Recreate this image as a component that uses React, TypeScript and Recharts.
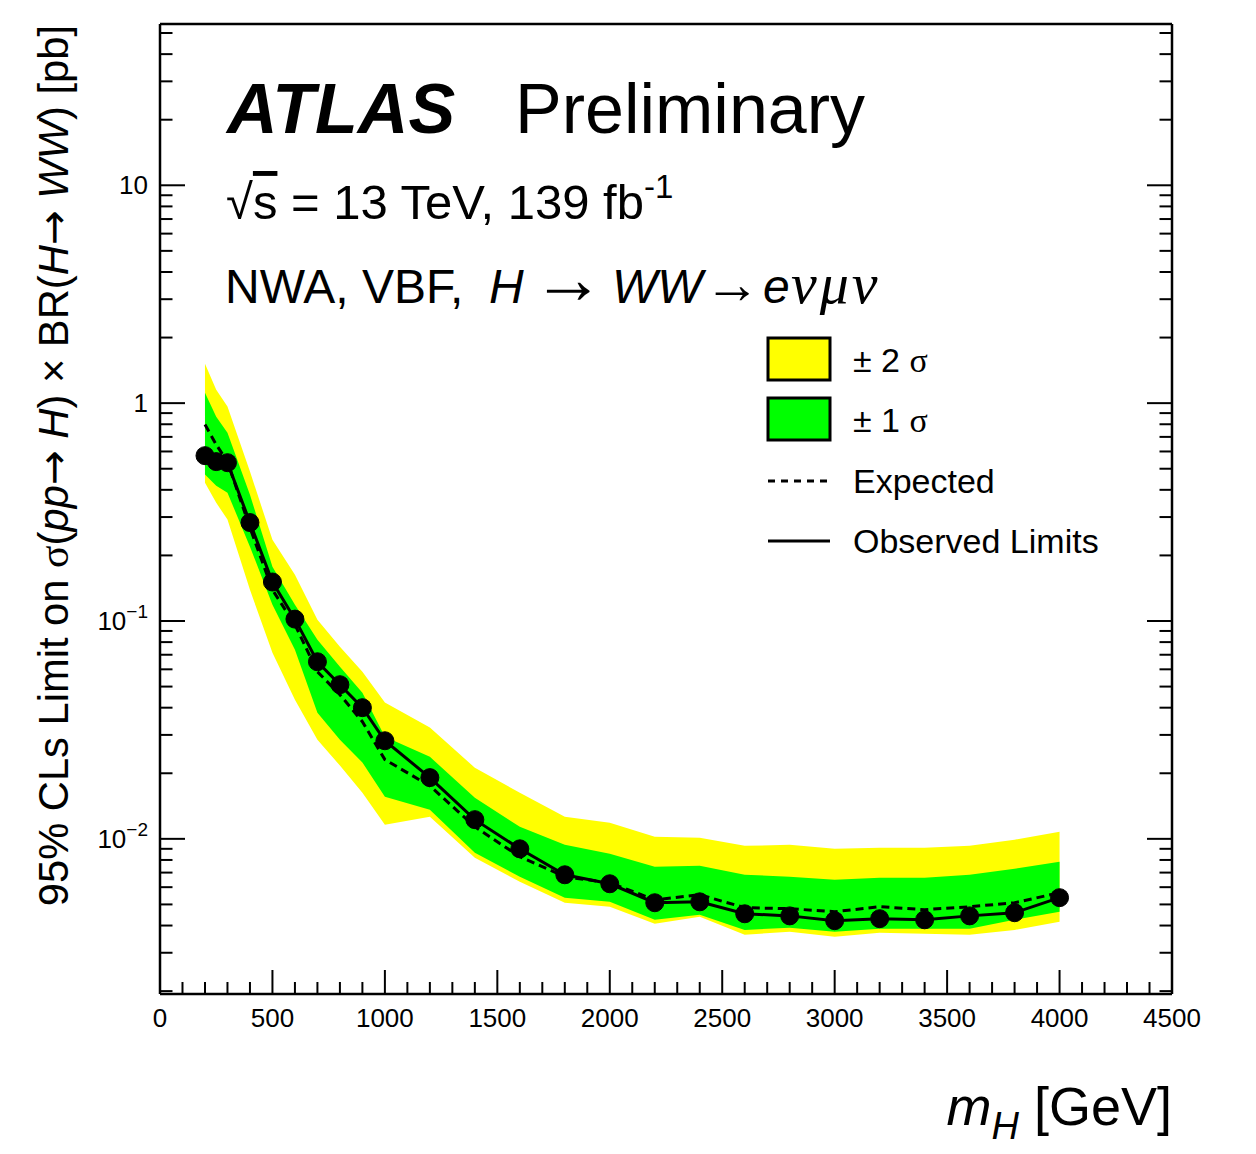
import React from "react";
import { ComposedChart, Area, Line, XAxis, YAxis } from "recharts";

// mass points [GeV]
const MASS = [200, 250, 300, 400, 500, 600, 700, 800, 900, 1000, 1200, 1400, 1600, 1800, 2000, 2200, 2400, 2600, 2800, 3000, 3200, 3400, 3600, 3800, 4000];

// limits [pb]
const OBSERVED = [0.574, 0.539, 0.533, 0.283, 0.151, 0.102, 0.065, 0.051, 0.04, 0.0282, 0.0191, 0.01225, 0.009, 0.00684, 0.00622, 0.00509, 0.00514, 0.00453, 0.00443, 0.00421, 0.0043, 0.00425, 0.00443, 0.00458, 0.00537];
const EXPECTED = [0.797, 0.645, 0.539, 0.268, 0.139, 0.0962, 0.0585, 0.0459, 0.0345, 0.0231, 0.0175, 0.01136, 0.00828, 0.0067, 0.00629, 0.00525, 0.00554, 0.00483, 0.00478, 0.00463, 0.00488, 0.00473, 0.00488, 0.00509, 0.00566];
const PLUS1 = [1.117, 0.867, 0.732, 0.38, 0.1776, 0.1188, 0.082, 0.0617, 0.0469, 0.0294, 0.0238, 0.01544, 0.01136, 0.00939, 0.00854, 0.00744, 0.00752, 0.00684, 0.0067, 0.00649, 0.00663, 0.00663, 0.00684, 0.00729, 0.00785];
const MINUS1 = [0.47, 0.418, 0.388, 0.2194, 0.1188, 0.0738, 0.0379, 0.0285, 0.0224, 0.0156, 0.0136, 0.00864, 0.0067, 0.00536, 0.00514, 0.00425, 0.00448, 0.00382, 0.00391, 0.00375, 0.00387, 0.00387, 0.00387, 0.00425, 0.00463];
const PLUS2 = [1.518, 1.153, 0.964, 0.485, 0.236, 0.163, 0.1014, 0.0762, 0.0585, 0.0422, 0.0324, 0.0212, 0.01628, 0.01264, 0.01186, 0.01022, 0.01012, 0.00929, 0.00939, 0.00901, 0.0091, 0.0091, 0.00929, 0.00991, 0.01078];
const MINUS2 = [0.431, 0.349, 0.292, 0.139, 0.0715, 0.0435, 0.0285, 0.0217, 0.01628, 0.01161, 0.01264, 0.00819, 0.00635, 0.00509, 0.00488, 0.00408, 0.00439, 0.00363, 0.00375, 0.00355, 0.00371, 0.00367, 0.00363, 0.00382, 0.00416];

// axes
const X_DOMAIN = [0, 4500];
const X_MAJOR = [0, 500, 1000, 1500, 2000, 2500, 3000, 3500, 4000, 4500];
const X_TICKS = [
  0, 100, 200, 300, 400, 500, 600, 700, 800, 900, 1000, 1100, 1200, 1300, 1400, 1500,
  1600, 1700, 1800, 1900, 2000, 2100, 2200, 2300, 2400, 2500, 2600, 2700, 2800, 2900, 3000,
  3100, 3200, 3300, 3400, 3500, 3600, 3700, 3800, 3900, 4000, 4100, 4200, 4300, 4400, 4500,
];
const Y_DOMAIN = [0.00194, 55];
const Y_MAJOR = [0.01, 0.1, 1, 10];
const Y_TICKS = [
  0.002, 0.003, 0.004, 0.005, 0.006, 0.007, 0.008, 0.009,
  0.01, 0.02, 0.03, 0.04, 0.05, 0.06, 0.07, 0.08, 0.09,
  0.1, 0.2, 0.3, 0.4, 0.5, 0.6, 0.7, 0.8, 0.9,
  1, 2, 3, 4, 5, 6, 7, 8, 9,
  10, 20, 30, 40, 50,
];
const Y_LABELS: Record<string, [string, string]> = {
  "10": ["10", ""],
  "1": ["1", ""],
  "0.1": ["10", "\u22121"],
  "0.01": ["10", "\u22122"],
};

const data = MASS.map((m, i) => ({
  m,
  obs: OBSERVED[i],
  exp: EXPECTED[i],
  band1: [MINUS1[i], PLUS1[i]],
  band2: [MINUS2[i], PLUS2[i]],
}));

const FONT = '"Liberation Sans", Arial, Helvetica, sans-serif';
const SERIF = '"Liberation Serif", "Times New Roman", serif';
const ARROW = '"DejaVu Sans", sans-serif';

function XTick(props: any) {
  const { x, y, payload, side } = props;
  const major = X_MAJOR.includes(payload.value);
  const len = major ? 24 : 12;
  const dir = side === "bottom" ? -1 : 1;
  return (
    <g>
      <line x1={x} x2={x} y1={y} y2={y + dir * len} stroke="#000" strokeWidth={2} />
      {side === "bottom" && major && (
        <text x={x} y={y + 33} textAnchor="middle" fontSize={26} fontFamily={FONT} fill="#000">
          {payload.value}
        </text>
      )}
    </g>
  );
}

function YTick(props: any) {
  const { x, y, payload, side } = props;
  const major = Y_MAJOR.includes(payload.value);
  const len = major ? 25 : 12.5;
  const dir = side === "left" ? 1 : -1;
  const lab = Y_LABELS[String(payload.value)];
  return (
    <g>
      <line x1={x} x2={x + dir * len} y1={y} y2={y} stroke="#000" strokeWidth={2} />
      {side === "left" && lab && (
        <text x={x - 12} y={y + 9} textAnchor="end" fontSize={26} fontFamily={FONT} fill="#000">
          {lab[0]}
          {lab[1] && (
            <tspan fontSize={19} dy={-12}>
              {lab[1]}
            </tspan>
          )}
        </text>
      )}
    </g>
  );
}

const axisLine = { stroke: "#000", strokeWidth: 2.5 };

export default function App() {
  return (
    <div style={{ position: "absolute", left: 0, top: 0, width: 1256, height: 1154, background: "#fff" }}>
      <ComposedChart width={1256} height={1154} data={data} margin={{ top: 14, right: 74, bottom: 120, left: 100 }}>
        <XAxis
          xAxisId="b"
          dataKey="m"
          type="number"
          domain={X_DOMAIN}
          ticks={X_TICKS}
          interval={0}
          allowDataOverflow
          height={40}
          tickSize={0}
          tickMargin={0}
          tickLine={false}
          axisLine={axisLine}
          tick={(p: any) => <XTick {...p} side="bottom" />}
        />
        <XAxis
          xAxisId="t"
          orientation="top"
          type="number"
          domain={X_DOMAIN}
          ticks={X_TICKS}
          interval={0}
          allowDataOverflow
          height={10}
          tickSize={0}
          tickMargin={0}
          tickLine={false}
          axisLine={axisLine}
          tick={(p: any) => <XTick {...p} side="top" />}
        />
        <YAxis
          yAxisId="l"
          type="number"
          scale="log"
          domain={Y_DOMAIN}
          ticks={Y_TICKS}
          interval={0}
          allowDataOverflow
          width={60}
          tickSize={0}
          tickMargin={0}
          tickLine={false}
          axisLine={axisLine}
          tick={(p: any) => <YTick {...p} side="left" />}
        />
        <YAxis
          yAxisId="r"
          orientation="right"
          type="number"
          scale="log"
          domain={Y_DOMAIN}
          ticks={Y_TICKS}
          interval={0}
          allowDataOverflow
          width={10}
          tickSize={0}
          tickMargin={0}
          tickLine={false}
          axisLine={axisLine}
          tick={(p: any) => <YTick {...p} side="right" />}
        />
        <Area xAxisId="b" yAxisId="l" type="linear" dataKey="band2" stroke="none" fill="#ffff00" fillOpacity={1} dot={false} activeDot={false} isAnimationActive={false} />
        <Area xAxisId="b" yAxisId="l" type="linear" dataKey="band1" stroke="none" fill="#00ff00" fillOpacity={1} dot={false} activeDot={false} isAnimationActive={false} />
        <Line xAxisId="b" yAxisId="l" type="linear" dataKey="exp" stroke="#000" strokeWidth={3} strokeDasharray="8 5" dot={false} activeDot={false} isAnimationActive={false} />
        <Line xAxisId="b" yAxisId="l" type="linear" dataKey="obs" stroke="#000" strokeWidth={3} dot={{ r: 9, fill: "#000", stroke: "#000", strokeWidth: 1 }} activeDot={false} isAnimationActive={false} />
      </ComposedChart>

      <svg width={1256} height={1154} style={{ position: "absolute", left: 0, top: 0, pointerEvents: "none" }} fontFamily={FONT}>
        <text x={227} y={133} fontSize={70} fontWeight="bold" fontStyle="italic">ATLAS</text>
        <text x={515} y={133} fontSize={70}>Preliminary</text>
        <text x={226} y={219} fontSize={49}>
          √<tspan style={{ textDecoration: "overline" }}>s</tspan> = 13 TeV, 139 fb
          <tspan fontSize={33} dy={-21}>-1</tspan>
        </text>
        <text y={303} fontSize={48}>
          <tspan x={225}>NWA, VBF,</tspan>
          <tspan x={489} fontStyle="italic">H</tspan>
          <tspan x={532} fontSize={72}>→</tspan>
          <tspan x={612} fontStyle="italic">WW</tspan>
          <tspan x={704} fontSize={56}>→</tspan>
          <tspan x={763} fontStyle="italic">e</tspan>
          <tspan x={791} fontStyle="italic" fontFamily={SERIF} fontSize={58} letterSpacing={3}>νμν</tspan>
        </text>

        <rect x={768} y={338} width={62} height={42} fill="#ffff00" stroke="#000" strokeWidth={3} />
        <rect x={768} y={398} width={62} height={42} fill="#00ff00" stroke="#000" strokeWidth={3} />
        <line x1={768} x2={830} y1={481} y2={481} stroke="#000" strokeWidth={3} strokeDasharray="7 6" />
        <line x1={768} x2={830} y1={541} y2={541} stroke="#000" strokeWidth={3} />
        <text x={853} y={372} fontSize={34}>± 2 <tspan fontFamily={SERIF}>σ</tspan></text>
        <text x={853} y={432} fontSize={34}>± 1 <tspan fontFamily={SERIF}>σ</tspan></text>
        <text x={853} y={493} fontSize={34}>Expected</text>
        <text x={853} y={553} fontSize={34}>Observed Limits</text>

        <text transform="translate(68,25) rotate(-90)" textAnchor="end" fontSize={41.7}>
          95% CLs Limit on <tspan fontFamily={SERIF}>σ</tspan>(<tspan fontStyle="italic">pp</tspan><tspan fontFamily={ARROW}>→</tspan> <tspan fontStyle="italic">H</tspan>) × BR(<tspan fontStyle="italic">H</tspan><tspan fontFamily={ARROW}>→</tspan> <tspan fontStyle="italic">WW</tspan>) [pb]
        </text>

        <text x={1172} y={1125} textAnchor="end" fontSize={54}>
          <tspan fontStyle="italic">m</tspan>
          <tspan fontStyle="italic" fontSize={38} dy={14}>H</tspan>
          <tspan dy={-14}> [GeV]</tspan>
        </text>
      </svg>
    </div>
  );
}
